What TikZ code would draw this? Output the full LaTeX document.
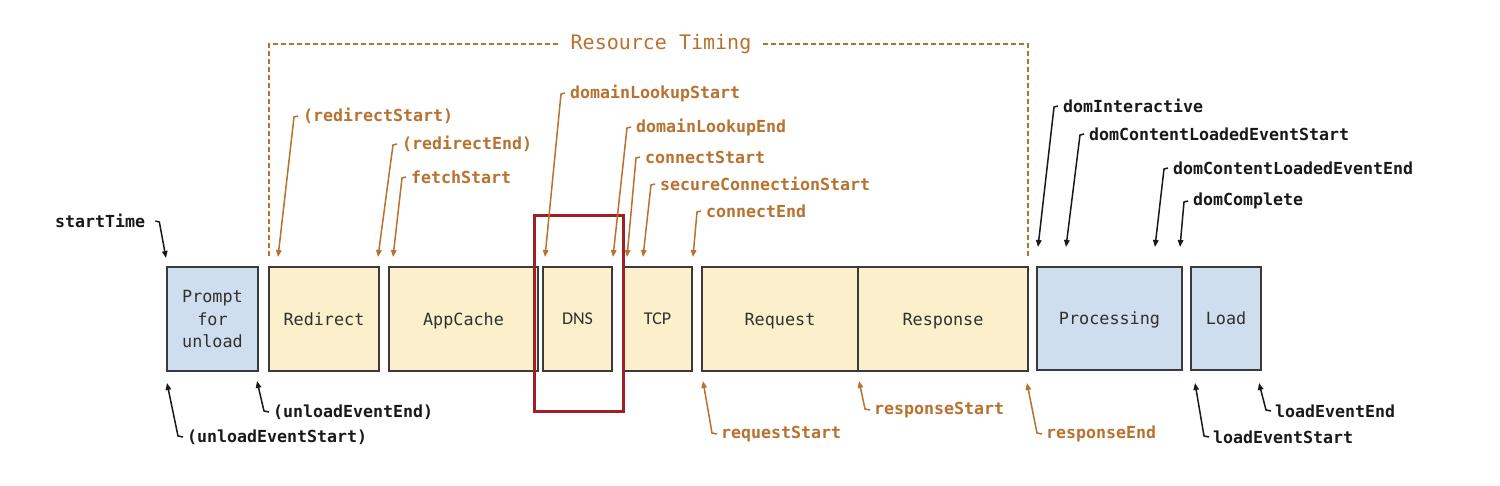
\documentclass[tikz,border=0pt]{standalone}
\usepackage{fontspec}
\setmonofont{DejaVu Sans Mono}
\newfontfamily\calib{Carlito}
\usetikzlibrary{arrows.meta}
\definecolor{orng}{RGB}{184,114,48}
\definecolor{blk}{RGB}{25,25,25}
\definecolor{yfill}{RGB}{251,240,203}
\definecolor{bfill}{RGB}{207,222,238}
\definecolor{bline}{RGB}{58,58,58}
\definecolor{hlred}{RGB}{158,32,36}
\tikzset{
  box/.style={draw=bline, line width=1.6pt, inner sep=0pt, outer sep=0pt, align=center,
    anchor=north west, text=blk!90, text depth=0pt, font=\ttfamily\fontsize{16.8}{22.5}\selectfont},
  ybox/.style={box, fill=yfill},
  bbox/.style={box, fill=bfill},
  lbl/.style={anchor=west, inner sep=0pt, font=\ttfamily\bfseries\fontsize{16.6}{20}\selectfont},
  olbl/.style={lbl, text=orng},
  klbl/.style={lbl, text=blk},
  arr/.style={line width=1.5pt, -{Triangle[length=7pt,width=5.5pt]}},
  oarr/.style={arr, draw=orng},
  karr/.style={arr, draw=blk},
}
\begin{document}
\begin{tikzpicture}[x=1pt,y=-1pt]
\useasboundingbox[fill=white] (0,0) rectangle (1500,486);

% boxes
\node[bbox, minimum width=91pt, minimum height=104pt] (prompt) at (167,267) {Prompt\\for\\unload};
\node[ybox, minimum width=110pt, minimum height=104pt] (redirect) at (269,267) {Redirect};
\node[ybox, minimum width=149pt, minimum height=104pt] (appcache) at (389,267) {AppCache};
\node[ybox, minimum width=69pt, minimum height=104pt, font=\calib\fontsize{18}{20}\selectfont] (dns) at (543,267) {DNS};
\node[ybox, minimum width=69pt, minimum height=104pt, font=\calib\fontsize{18}{20}\selectfont] (tcp) at (623,267) {TCP};
\node[ybox, minimum width=156pt, minimum height=104pt] (request) at (702,267) {Request};
\node[ybox, minimum width=170pt, minimum height=104pt] (response) at (858,267) {Response};
\node[bbox, minimum width=145pt, minimum height=103pt] (processing) at (1037,267) {Processing};
\node[bbox, minimum width=70pt, minimum height=103pt] (load) at (1191,267) {Load};

% highlight
\node[draw=hlred, line width=3pt, minimum width=89pt, minimum height=196pt, inner sep=0pt, anchor=north west] (hl) at (533,214) {};

% resource timing bracket
\node[text=orng, inner sep=10pt, font=\ttfamily\fontsize{20}{24}\selectfont] (rt) at (661,44) {Resource Timing};
\coordinate (bl) at (269,256);
\coordinate (br) at (1028,256);
\draw[orng, line width=1.3pt, dash pattern=on 5pt off 3pt] (bl) |- (rt.west);
\draw[orng, line width=1.3pt, dash pattern=on 5pt off 3pt] (br) |- (rt.east);

% top orange labels
\node[olbl] (rs) at (303,116) {(redirectStart)};
\node[olbl] (re) at (402,144) {(redirectEnd)};
\node[olbl] (fs) at (411,177) {fetchStart};
\node[olbl] (dls) at (570,93) {domainLookupStart};
\node[olbl] (dle) at (636,127) {domainLookupEnd};
\node[olbl] (cs) at (645,157) {connectStart};
\node[olbl] (scs) at (660,184) {secureConnectionStart};
\node[olbl] (ce) at (706,211) {connectEnd};

\coordinate (trs) at (278,257);
\coordinate (tre) at (378,257);
\coordinate (tfs) at (393,257);
\coordinate (tdls) at (545,257);
\coordinate (tdle) at (613,257);
\coordinate (tcs) at (627,257);
\coordinate (tscs) at (643,257);
\coordinate (tce) at (693,257);

\foreach \n in {rs,re,fs,dls,dle,cs,scs,ce}{
  \draw[oarr] ([xshift=-5pt]\n.west) -- ([xshift=-9pt,yshift=-1pt]\n.west) -- (t\n);
}

% top black labels
\node[klbl] (di) at (1063,106) {domInteractive};
\node[klbl] (dcs) at (1089,134) {domContentLoadedEventStart};
\node[klbl] (dce) at (1173,168) {domContentLoadedEventEnd};
\node[klbl] (dc) at (1193,201) {domComplete};
\coordinate (tdi) at (1038,247);
\coordinate (tdcs) at (1066,247);
\coordinate (tdce) at (1155,247);
\coordinate (tdc) at (1180,247);
\foreach \n in {di,dcs,dce,dc}{
  \draw[karr] ([xshift=-5pt]\n.west) -- ([xshift=-9pt,yshift=-1pt]\n.west) -- (t\n);
}

% startTime
\node[klbl] (st) at (55,221) {startTime};
\coordinate (tst) at (166,258);
\draw[karr] ([xshift=10pt]st.east) -- ([xshift=14pt,yshift=-1pt]st.east) -- (tst);

% bottom labels
\node[klbl] (ues) at (187,437) {(unloadEventStart)};
\node[klbl] (uee) at (273,412) {(unloadEventEnd)};
\node[olbl] (rqs) at (721,434) {requestStart};
\node[olbl] (rps) at (874,410) {responseStart};
\node[olbl] (rpe) at (1046,434) {responseEnd};
\node[klbl] (les) at (1213,437) {loadEventStart};
\node[klbl] (lee) at (1275,411) {loadEventEnd};

\coordinate (bues) at (167,383);
\coordinate (buee) at (257,381);
\coordinate (brqs) at (703,381);
\coordinate (brps) at (859,381);
\coordinate (brpe) at (1027,383);
\coordinate (bles) at (1195,383);
\coordinate (blee) at (1259,383);

\foreach \n in {ues,uee,les,lee}{
  \draw[karr] ([xshift=-4pt]\n.west) -- ([xshift=-9pt,yshift=1pt]\n.west) -- (b\n);
}
\foreach \n in {rqs,rps,rpe}{
  \draw[oarr] ([xshift=-4pt]\n.west) -- ([xshift=-9pt,yshift=1pt]\n.west) -- (b\n);
}
\end{tikzpicture}
\end{document}
